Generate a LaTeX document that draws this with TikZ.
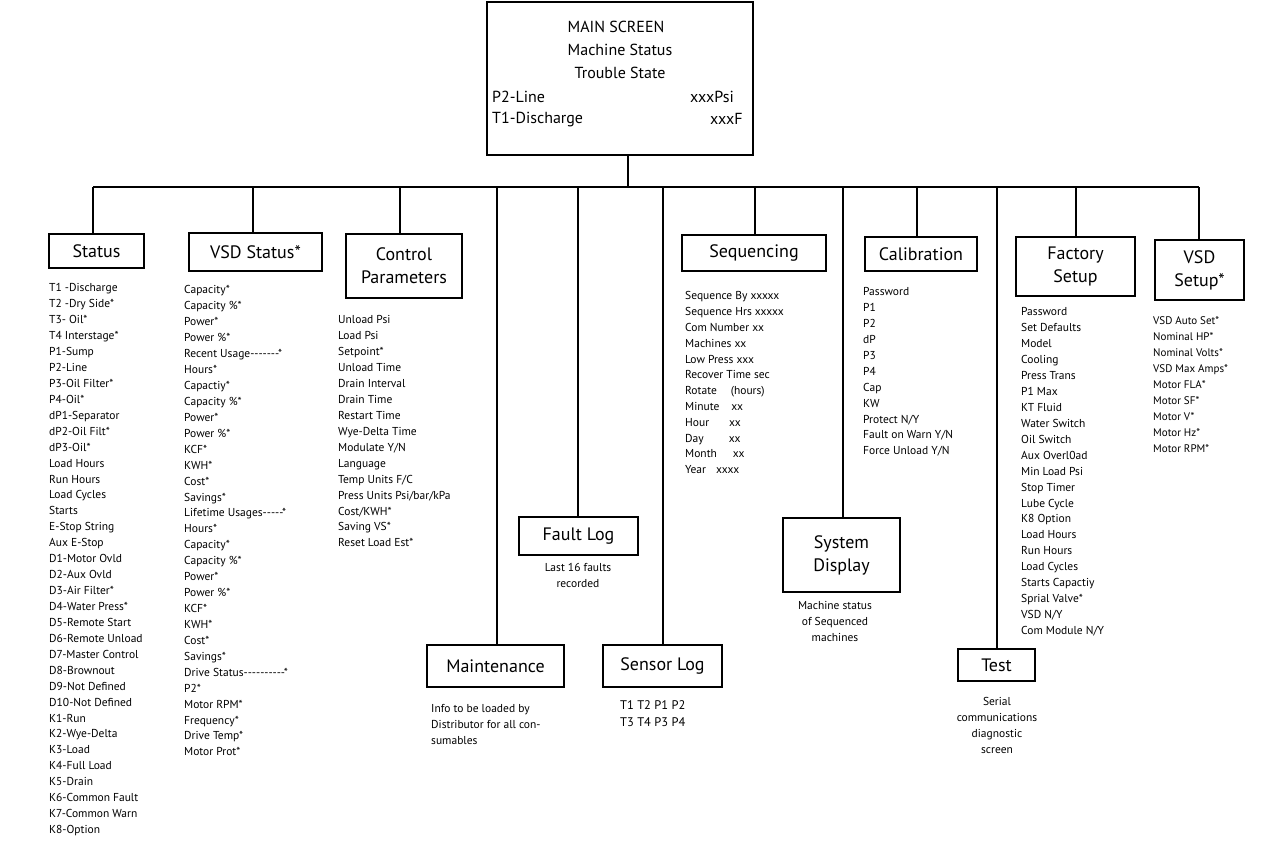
\documentclass[tikz,border=0pt]{standalone}
\usepackage{fontspec}
\setmainfont[Ligatures=TeXOff]{PT Sans}
\begin{document}
\begin{tikzpicture}[x=1pt,y=-1pt,
 box/.style={draw,line width=1.6pt,inner sep=0pt,font=\fontsize{18}{23}\selectfont,align=center},
 lst/.style={anchor=north west,inner sep=0pt,align=left,font=\fontsize{11.5}{15.93}\selectfont},
 note/.style={inner sep=0pt,align=center,font=\fontsize{11.5}{16}\selectfont},
 wire/.style={line width=2.4pt}]
\useasboundingbox (0,0) rectangle (1262,841);
% main screen
\node[draw,line width=1.6pt,minimum width=266pt,minimum height=153pt,inner sep=0pt] (main) at (620,78.5) {};
\node[inner sep=0pt,font=\fontsize{16}{23}\selectfont,align=center] (mt) at (616,50) {MAIN SCREEN\\\hspace*{8pt}Machine Status\\\hspace*{8pt}Trouble State};
\node[anchor=west,inner sep=0pt,font=\fontsize{16}{20}\selectfont] (m1) at (492,97) {P2-Line};
\node[anchor=west,inner sep=0pt,font=\fontsize{16}{20}\selectfont] (m2) at (690,97) {xxxPsi};
\node[anchor=west,inner sep=0pt,font=\fontsize{16}{20}\selectfont] (m3) at (492,119) {T1-Discharge};
\node[anchor=west,inner sep=0pt,font=\fontsize{16}{20}\selectfont] (m4) at (710,119) {xxxF};
% boxes
\node[box,minimum width=95pt,minimum height=34pt] (status) at (96.5,251) {Status};
\node[box,minimum width=133pt,minimum height=38pt] (vsd) at (255.5,252) {VSD Status*};
\node[box,minimum width=116pt,minimum height=64pt] (ctrl) at (404,266) {Control\\Parameters};
\node[box,minimum width=144pt,minimum height=36pt] (seq) at (754,253) {Sequencing};
\node[box,minimum width=112pt,minimum height=34pt] (cal) at (921,254) {Calibration};
\node[box,minimum width=119pt,minimum height=59pt] (fact) at (1075.5,266.5) {Factory\\Setup};
\node[box,minimum width=89pt,minimum height=60pt] (vsds) at (1199.5,270) {VSD\\Setup*};
\node[box,minimum width=119pt,minimum height=38pt] (fault) at (578.5,536) {Fault Log};
\node[box,minimum width=117pt,minimum height=74pt] (sys) at (841.5,555) {System\\Display};
\node[box,minimum width=137pt,minimum height=42pt] (maint) at (495.5,666) {Maintenance};
\node[box,minimum width=119pt,minimum height=42pt] (sens) at (662.5,666) {Sensor Log};
\node[box,minimum width=77pt,minimum height=32pt] (test) at (996.5,665) {Test};
% wires
\coordinate (b0) at (628,187);
\coordinate (bl) at (93,187);
\coordinate (br) at (1199,187);
\draw[wire] (main.south -| b0) -- (b0);
\draw[wire] (bl) -- (br);
\foreach \n/\x in {status/93,vsd/253,ctrl/400,maint/497,fault/578,sens/663,seq/755,sys/843,cal/917,test/997,fact/1076,vsds/1199}
  \draw[wire] (\x,187) -- (\n.north -| \x,0);
% lists
\node[lst] (l1) at (49,283.5) {T1 -Discharge\\T2 -Dry Side*\\T3- Oil*\\T4 Interstage*\\P1-Sump\\P2-Line\\P3-Oil Filter*\\P4-Oil*\\dP1-Separator\\dP2-Oil Filt*\\dP3-Oil*\\Load Hours\\Run Hours\\Load Cycles\\Starts\\E-Stop String\\Aux E-Stop\\D1-Motor Ovld\\D2-Aux Ovld\\D3-Air Filter*\\D4-Water Press*\\D5-Remote Start\\D6-Remote Unload\\D7-Master Control\\D8-Brownout\\D9-Not Defined\\D10-Not Defined\\K1-Run\\K2-Wye-Delta\\K3-Load\\K4-Full Load\\K5-Drain\\K6-Common Fault\\K7-Common Warn\\K8-Option};
\node[lst] (l2) at (184,285.5) {Capacity*\\Capacity \%*\\Power*\\Power \%*\\Recent Usage-------*\\Hours*\\Capactiy*\\Capacity \%*\\Power*\\Power \%*\\KCF*\\KWH*\\Cost*\\Savings*\\Lifetime Usages-----*\\Hours*\\Capacity*\\Capacity \%*\\Power*\\Power \%*\\KCF*\\KWH*\\Cost*\\Savings*\\Drive Status----------*\\P2*\\Motor RPM*\\Frequency*\\Drive Temp*\\Motor Prot*};
\node[lst] (l3) at (338,315.5) {Unload Psi\\Load Psi\\Setpoint*\\Unload Time\\Drain Interval\\Drain Time\\Restart Time\\Wye-Delta Time\\Modulate Y/N\\Language\\Temp Units F/C\\Press Units Psi/bar/kPa\\Cost/KWH*\\Saving VS*\\Reset Load Est*};
\node[lst,font=\fontsize{11.5}{15.8}\selectfont] (l4) at (685,291.5) {Sequence By xxxxx\\Sequence Hrs xxxxx\\Com Number xx\\Machines xx\\Low Press xxx\\Recover Time sec\\Rotate\hspace{14pt}(hours)\\Minute\hspace{12pt}xx\\Hour\hspace{20pt}xx\\Day\hspace{25pt}xx\\Month\hspace{16pt}xx\\Year\hspace{10pt}xxxx};
\node[lst,font=\fontsize{11.5}{15.9}\selectfont] (l5) at (863,287.5) {Password\\P1\\P2\\dP\\P3\\P4\\Cap\\KW\\Protect N/Y\\Fault on Warn Y/N\\Force Unload Y/N};
\node[lst] (l6) at (1021,307.5) {Password\\Set Defaults\\Model\\Cooling\\Press Trans\\P1 Max\\KT Fluid\\Water Switch\\Oil Switch\\Aux Overl0ad\\Min Load Psi\\Stop Timer\\Lube Cycle\\K8 Option\\Load Hours\\Run Hours\\Load Cycles\\Starts Capactiy\\Sprial Valve*\\VSD N/Y\\Com Module N/Y};
\node[lst,font=\fontsize{11}{16}\selectfont] (l7) at (1153,316.5) {VSD Auto Set*\\Nominal HP*\\Nominal Volts*\\VSD Max Amps*\\Motor FLA*\\Motor SF*\\Motor V*\\Motor Hz*\\Motor RPM*};
% notes
\node[note,anchor=north] (n1) at (578,563.5) {Last 16 faults\\recorded};
\node[note,anchor=north] (n2) at (835,601.5) {Machine status\\of Sequenced\\machines};
\node[lst,font=\fontsize{11.5}{16}\selectfont] (n3) at (431,704.5) {Info to be loaded by\\Distributor for all con-\\sumables};
\node[lst,font=\fontsize{12.5}{17}\selectfont] (n4) at (620,700) {T1 T2 P1 P2\\T3 T4 P3 P4};
\node[note,anchor=north] (n5) at (997,697.5) {Serial\\communications\\diagnostic\\screen};
\end{tikzpicture}
\end{document}
